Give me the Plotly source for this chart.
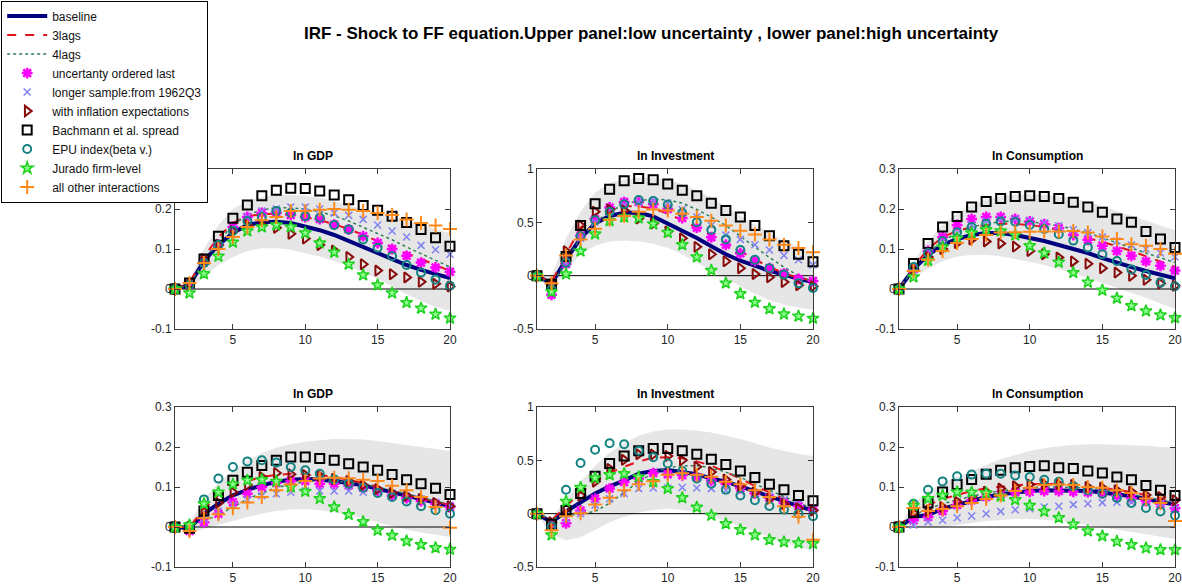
import plotly.graph_objects as go

horizon = list(range(1, 21))

series_names = ["baseline", "3lags", "4lags", "uncertanty ordered last",
                "longer sample:from 1962Q3", "with inflation expectations",
                "Bachmann et al. spread", "EPU index(beta v.)",
                "Jurado firm-level", "all other interactions"]
panel_titles = ["ln GDP", "ln Investment", "ln Consumption"]
main_title = "IRF - Shock to FF equation.Upper panel:low uncertainty , lower panel:high uncertainty"

# ---------------- upper panel: low uncertainty ----------------
gdp_lo_base = [0, 0.01, 0.07, 0.11, 0.14, 0.16, 0.167, 0.168, 0.165, 0.157, 0.147, 0.135, 0.12, 0.105, 0.09, 0.075, 0.06, 0.048, 0.037, 0.027]
gdp_lo_lag3 = [0, 0.015, 0.08, 0.13, 0.165, 0.182, 0.187, 0.188, 0.186, 0.18, 0.172, 0.162, 0.15, 0.135, 0.12, 0.105, 0.09, 0.075, 0.06, 0.045]
gdp_lo_lag4 = [0, 0.01, 0.07, 0.12, 0.16, 0.185, 0.198, 0.203, 0.203, 0.2, 0.193, 0.183, 0.17, 0.155, 0.14, 0.123, 0.105, 0.088, 0.07, 0.055]
gdp_lo_ulast = [0, 0.01, 0.07, 0.11, 0.155, 0.18, 0.19, 0.19, 0.185, 0.18, 0.175, 0.161, 0.149, 0.132, 0.115, 0.1, 0.083, 0.066, 0.054, 0.043]
gdp_lo_long = [0, 0.01, 0.065, 0.11, 0.15, 0.18, 0.195, 0.2, 0.205, 0.205, 0.2, 0.19, 0.184, 0.174, 0.16, 0.145, 0.13, 0.109, 0.098, 0.087]
gdp_lo_infl = [0, 0.01, 0.075, 0.11, 0.145, 0.16, 0.16, 0.153, 0.138, 0.126, 0.11, 0.096, 0.08, 0.062, 0.046, 0.037, 0.029, 0.018, 0.013, 0.006]
gdp_lo_bach = [0, 0.015, 0.075, 0.132, 0.177, 0.21, 0.233, 0.247, 0.252, 0.251, 0.245, 0.235, 0.223, 0.209, 0.197, 0.182, 0.166, 0.149, 0.128, 0.107]
gdp_lo_epu = [0, 0.01, 0.065, 0.11, 0.145, 0.17, 0.18, 0.195, 0.19, 0.182, 0.178, 0.16, 0.149, 0.124, 0.103, 0.082, 0.06, 0.041, 0.024, 0.008]
gdp_lo_jur = [0, -0.01, 0.038, 0.082, 0.117, 0.145, 0.155, 0.16, 0.155, 0.14, 0.115, 0.092, 0.062, 0.035, 0.01, -0.01, -0.034, -0.048, -0.063, -0.073]
gdp_lo_other = [0, 0.015, 0.065, 0.1, 0.13, 0.155, 0.172, 0.18, 0.195, 0.195, 0.198, 0.2, 0.198, 0.195, 0.19, 0.185, 0.174, 0.165, 0.159, 0.15]
gdp_lo_band_low = [0, 0, 0.03, 0.06, 0.08, 0.095, 0.102, 0.102, 0.098, 0.09, 0.081, 0.07, 0.057, 0.042, 0.025, 0.007, -0.013, -0.03, -0.045, -0.055]
gdp_lo_band_high = [0, 0.02, 0.1, 0.16, 0.2, 0.22, 0.23, 0.235, 0.235, 0.233, 0.228, 0.22, 0.21, 0.2, 0.19, 0.18, 0.17, 0.16, 0.15, 0.14]

inv_lo_base = [0, -0.075, 0.15, 0.35, 0.49, 0.56, 0.59, 0.59, 0.556, 0.49, 0.425, 0.353, 0.275, 0.2, 0.14, 0.09, 0.045, 0.01, -0.03, -0.06]
inv_lo_lag3 = [0, -0.06, 0.2, 0.45, 0.57, 0.63, 0.65, 0.65, 0.63, 0.58, 0.52, 0.45, 0.38, 0.3, 0.23, 0.15, 0.085, 0.02, -0.02, -0.05]
inv_lo_lag4 = [0, -0.1, 0.15, 0.35, 0.5, 0.6, 0.67, 0.7, 0.72, 0.71, 0.68, 0.62, 0.55, 0.47, 0.37, 0.27, 0.17, 0.08, 0.0, -0.06]
inv_lo_ulast = [0, -0.18, 0.11, 0.375, 0.53, 0.64, 0.69, 0.69, 0.67, 0.625, 0.54, 0.45, 0.36, 0.29, 0.21, 0.14, 0.07, 0.02, -0.03, -0.05]
inv_lo_long = [0, -0.12, 0.12, 0.35, 0.5, 0.6, 0.66, 0.69, 0.7, 0.68, 0.62, 0.55, 0.47, 0.38, 0.34, 0.29, 0.24, 0.19, 0.15, 0.1]
inv_lo_infl = [0, -0.08, 0.23, 0.47, 0.6, 0.62, 0.61, 0.535, 0.49, 0.415, 0.35, 0.27, 0.2, 0.135, 0.07, 0.015, -0.015, -0.06, -0.09, -0.1]
inv_lo_bach = [0, -0.08, 0.18, 0.47, 0.675, 0.81, 0.89, 0.91, 0.9, 0.86, 0.8, 0.75, 0.68, 0.61, 0.55, 0.47, 0.375, 0.28, 0.2, 0.13]
inv_lo_epu = [0, -0.13, 0.12, 0.37, 0.52, 0.6, 0.67, 0.71, 0.7, 0.665, 0.59, 0.5, 0.43, 0.34, 0.24, 0.15, 0.07, 0.01, -0.07, -0.115]
inv_lo_jur = [0, -0.15, 0.015, 0.23, 0.39, 0.515, 0.55, 0.54, 0.485, 0.405, 0.29, 0.175, 0.05, -0.07, -0.17, -0.25, -0.31, -0.36, -0.38, -0.4]
inv_lo_other = [0, -0.07, 0.19, 0.34, 0.44, 0.525, 0.56, 0.6, 0.62, 0.61, 0.58, 0.55, 0.515, 0.47, 0.42, 0.385, 0.34, 0.29, 0.26, 0.22]
inv_lo_band_low = [0, -0.15, 0.05, 0.2, 0.28, 0.32, 0.33, 0.32, 0.3, 0.26, 0.2, 0.12, 0.05, -0.03, -0.1, -0.17, -0.23, -0.27, -0.3, -0.32]
inv_lo_band_high = [0, 0.0, 0.35, 0.6, 0.78, 0.87, 0.9, 0.92, 0.92, 0.9, 0.86, 0.8, 0.73, 0.65, 0.56, 0.48, 0.4, 0.33, 0.27, 0.22]

con_lo_base = [0, 0.05, 0.085, 0.11, 0.125, 0.135, 0.14, 0.14, 0.135, 0.128, 0.12, 0.11, 0.1, 0.09, 0.077, 0.065, 0.055, 0.045, 0.036, 0.027]
con_lo_lag3 = [0, 0.055, 0.1, 0.13, 0.145, 0.155, 0.16, 0.163, 0.163, 0.16, 0.155, 0.148, 0.138, 0.128, 0.118, 0.107, 0.095, 0.082, 0.068, 0.055]
con_lo_lag4 = [0, 0.05, 0.09, 0.12, 0.14, 0.155, 0.163, 0.168, 0.17, 0.168, 0.164, 0.158, 0.15, 0.14, 0.128, 0.115, 0.102, 0.09, 0.078, 0.066]
con_lo_ulast = [0, 0.05, 0.095, 0.13, 0.16, 0.175, 0.18, 0.18, 0.175, 0.169, 0.162, 0.152, 0.135, 0.123, 0.108, 0.095, 0.083, 0.069, 0.058, 0.046]
con_lo_long = [0, 0.05, 0.09, 0.12, 0.14, 0.16, 0.17, 0.175, 0.175, 0.172, 0.165, 0.158, 0.148, 0.141, 0.13, 0.12, 0.11, 0.1, 0.09, 0.08]
con_lo_infl = [0, 0.05, 0.08, 0.1, 0.115, 0.124, 0.119, 0.114, 0.106, 0.095, 0.087, 0.079, 0.069, 0.063, 0.052, 0.041, 0.033, 0.023, 0.014, 0.008]
con_lo_bach = [0, 0.064, 0.114, 0.155, 0.181, 0.205, 0.219, 0.226, 0.231, 0.233, 0.231, 0.226, 0.217, 0.205, 0.192, 0.175, 0.167, 0.144, 0.125, 0.104]
con_lo_epu = [0, 0.055, 0.09, 0.12, 0.142, 0.155, 0.163, 0.169, 0.168, 0.16, 0.15, 0.137, 0.121, 0.104, 0.087, 0.07, 0.049, 0.035, 0.016, 0.007]
con_lo_jur = [0, 0.03, 0.071, 0.105, 0.127, 0.14, 0.148, 0.145, 0.135, 0.108, 0.09, 0.067, 0.041, 0.017, -0.003, -0.023, -0.042, -0.055, -0.065, -0.072]
con_lo_other = [0, 0.045, 0.073, 0.095, 0.115, 0.125, 0.135, 0.141, 0.142, 0.143, 0.144, 0.144, 0.145, 0.141, 0.131, 0.125, 0.112, 0.108, 0.1, 0.088]
con_lo_band_low = [0, 0.03, 0.05, 0.07, 0.081, 0.085, 0.085, 0.082, 0.075, 0.068, 0.06, 0.05, 0.04, 0.028, 0.016, 0.003, -0.01, -0.022, -0.035, -0.05]
con_lo_band_high = [0, 0.07, 0.12, 0.16, 0.19, 0.21, 0.225, 0.232, 0.236, 0.237, 0.235, 0.232, 0.226, 0.218, 0.207, 0.195, 0.183, 0.17, 0.158, 0.147]

# ---------------- lower panel: high uncertainty ----------------
gdp_hi_base = [0, -0.003, 0.033, 0.058, 0.079, 0.093, 0.104, 0.113, 0.118, 0.12, 0.119, 0.115, 0.11, 0.104, 0.096, 0.088, 0.078, 0.07, 0.061, 0.052]
gdp_hi_lag3 = [0, 0.0, 0.045, 0.08, 0.1, 0.115, 0.125, 0.13, 0.133, 0.133, 0.13, 0.125, 0.118, 0.11, 0.1, 0.09, 0.08, 0.072, 0.063, 0.055]
gdp_hi_lag4 = [0, 0.005, 0.015, 0.03, 0.05, 0.07, 0.085, 0.098, 0.107, 0.113, 0.115, 0.115, 0.112, 0.107, 0.1, 0.092, 0.083, 0.074, 0.065, 0.056]
gdp_hi_ulast = [0, -0.01, 0.012, 0.033, 0.062, 0.083, 0.1, 0.11, 0.115, 0.115, 0.108, 0.108, 0.104, 0.098, 0.09, 0.079, 0.072, 0.065, 0.058, 0.05]
gdp_hi_long = [0, 0.0, 0.02, 0.04, 0.055, 0.068, 0.078, 0.083, 0.087, 0.09, 0.09, 0.09, 0.09, 0.087, 0.088, 0.085, 0.078, 0.07, 0.062, 0.055]
gdp_hi_infl = [0, 0.0, 0.04, 0.06, 0.087, 0.105, 0.125, 0.135, 0.132, 0.13, 0.128, 0.12, 0.115, 0.105, 0.095, 0.085, 0.078, 0.07, 0.06, 0.052]
gdp_hi_bach = [0, -0.003, 0.04, 0.079, 0.117, 0.137, 0.154, 0.167, 0.175, 0.175, 0.171, 0.167, 0.158, 0.15, 0.142, 0.131, 0.118, 0.108, 0.097, 0.081]
gdp_hi_epu = [0, 0.0, 0.069, 0.121, 0.15, 0.164, 0.167, 0.161, 0.15, 0.142, 0.133, 0.119, 0.108, 0.098, 0.085, 0.075, 0.064, 0.052, 0.042, 0.033]
gdp_hi_jur = [0, 0.005, 0.058, 0.087, 0.107, 0.117, 0.118, 0.114, 0.1, 0.089, 0.071, 0.05, 0.031, 0.013, -0.008, -0.021, -0.035, -0.044, -0.052, -0.056]
gdp_hi_other = [0, -0.01, 0.022, 0.032, 0.047, 0.061, 0.075, 0.092, 0.106, 0.115, 0.121, 0.123, 0.122, 0.118, 0.115, 0.103, 0.092, 0.075, 0.05, -0.002]
gdp_hi_band_low = [0, -0.015, -0.005, 0.005, 0.015, 0.025, 0.033, 0.04, 0.044, 0.045, 0.042, 0.037, 0.03, 0.022, 0.012, 0.002, -0.007, -0.014, -0.02, -0.025]
gdp_hi_band_high = [0, 0.01, 0.07, 0.11, 0.14, 0.165, 0.185, 0.198, 0.207, 0.213, 0.217, 0.22, 0.22, 0.219, 0.215, 0.21, 0.205, 0.2, 0.195, 0.19]

inv_hi_base = [0, -0.08, 0.02, 0.11, 0.19, 0.256, 0.31, 0.375, 0.4, 0.41, 0.39, 0.37, 0.33, 0.3, 0.256, 0.21, 0.156, 0.11, 0.07, 0.03]
inv_hi_lag3 = [0, -0.06, 0.07, 0.2, 0.3, 0.38, 0.44, 0.49, 0.525, 0.53, 0.52, 0.49, 0.45, 0.39, 0.33, 0.26, 0.2, 0.14, 0.08, 0.03]
inv_hi_lag4 = [0, -0.05, -0.02, 0.0, 0.02, 0.1, 0.2, 0.3, 0.38, 0.43, 0.45, 0.45, 0.43, 0.39, 0.34, 0.28, 0.22, 0.16, 0.1, 0.05]
inv_hi_ulast = [0, -0.1, -0.09, 0.03, 0.14, 0.235, 0.297, 0.33, 0.38, 0.37, 0.36, 0.34, 0.31, 0.28, 0.24, 0.19, 0.15, 0.1, 0.07, 0.04]
inv_hi_long = [0, -0.1, -0.05, 0.0, 0.08, 0.14, 0.19, 0.235, 0.24, 0.24, 0.245, 0.24, 0.235, 0.22, 0.21, 0.19, 0.16, 0.13, 0.09, 0.05]
inv_hi_infl = [0, -0.08, 0.05, 0.17, 0.3, 0.42, 0.505, 0.556, 0.555, 0.54, 0.5, 0.44, 0.39, 0.32, 0.26, 0.2, 0.14, 0.09, 0.05, 0.03]
inv_hi_bach = [0, -0.1, 0.03, 0.19, 0.35, 0.47, 0.54, 0.59, 0.61, 0.61, 0.59, 0.556, 0.51, 0.46, 0.4, 0.34, 0.275, 0.225, 0.17, 0.12]
inv_hi_epu = [0, -0.12, 0.225, 0.475, 0.6, 0.66, 0.65, 0.59, 0.53, 0.47, 0.4, 0.33, 0.28, 0.225, 0.17, 0.125, 0.072, 0.038, 0.0, -0.025]
inv_hi_jur = [0, -0.2, 0.115, 0.245, 0.335, 0.365, 0.375, 0.345, 0.3, 0.235, 0.15, 0.06, -0.015, -0.095, -0.15, -0.2, -0.245, -0.265, -0.275, -0.28]
inv_hi_other = [0, -0.155, -0.025, 0.005, 0.087, 0.15, 0.22, 0.275, 0.305, 0.365, 0.38, 0.365, 0.345, 0.3, 0.275, 0.22, 0.156, 0.07, -0.03, -0.245]
inv_hi_band_low = [0, -0.2, -0.25, -0.22, -0.15, -0.08, -0.03, 0.01, 0.035, 0.045, 0.035, 0.015, -0.02, -0.065, -0.12, -0.17, -0.22, -0.27, -0.31, -0.35]
inv_hi_band_high = [0, -0.05, 0.15, 0.3, 0.45, 0.57, 0.66, 0.73, 0.77, 0.79, 0.79, 0.78, 0.76, 0.73, 0.7, 0.66, 0.62, 0.59, 0.56, 0.54]

con_hi_base = [0, 0.025, 0.03, 0.046, 0.055, 0.065, 0.075, 0.082, 0.087, 0.09, 0.092, 0.092, 0.091, 0.09, 0.086, 0.082, 0.077, 0.07, 0.063, 0.056]
con_hi_lag3 = [0, 0.04, 0.055, 0.07, 0.08, 0.09, 0.097, 0.101, 0.104, 0.107, 0.108, 0.108, 0.106, 0.102, 0.098, 0.093, 0.087, 0.08, 0.072, 0.063]
con_hi_lag4 = [0, 0.03, 0.045, 0.058, 0.068, 0.077, 0.085, 0.09, 0.095, 0.098, 0.1, 0.1, 0.099, 0.097, 0.093, 0.088, 0.082, 0.075, 0.068, 0.06]
con_hi_ulast = [0, 0.017, 0.025, 0.04, 0.055, 0.067, 0.075, 0.082, 0.087, 0.088, 0.09, 0.09, 0.088, 0.087, 0.085, 0.078, 0.072, 0.065, 0.058, 0.047]
con_hi_long = [0, 0.005, 0.0125, 0.017, 0.023, 0.0275, 0.033, 0.039, 0.043, 0.046, 0.05, 0.052, 0.056, 0.058, 0.061, 0.062, 0.062, 0.062, 0.06, 0.055]
con_hi_infl = [0, 0.035, 0.04, 0.05, 0.063, 0.075, 0.088, 0.096, 0.102, 0.106, 0.107, 0.107, 0.105, 0.1, 0.098, 0.092, 0.088, 0.08, 0.075, 0.067]
con_hi_bach = [0, 0.036, 0.06, 0.0875, 0.106, 0.119, 0.132, 0.142, 0.148, 0.151, 0.153, 0.148, 0.146, 0.14, 0.135, 0.125, 0.118, 0.104, 0.092, 0.079]
con_hi_epu = [0, 0.058, 0.093, 0.114, 0.127, 0.131, 0.133, 0.133, 0.129, 0.125, 0.118, 0.113, 0.102, 0.092, 0.083, 0.0725, 0.06, 0.0475, 0.039, 0.029]
con_hi_jur = [0, 0.054, 0.071, 0.079, 0.0875, 0.087, 0.085, 0.077, 0.068, 0.054, 0.039, 0.023, 0.007, -0.01, -0.0225, -0.036, -0.044, -0.0525, -0.057, -0.057]
con_hi_other = [0, 0.0475, 0.04, 0.045, 0.052, 0.06, 0.07, 0.079, 0.09, 0.098, 0.105, 0.106, 0.105, 0.1, 0.098, 0.092, 0.085, 0.071, 0.06, 0.015]
con_hi_band_low = [0, 0.0, 0.0, 0.0, 0.005, 0.01, 0.015, 0.018, 0.02, 0.02, 0.018, 0.015, 0.01, 0.005, 0.0, -0.006, -0.012, -0.018, -0.024, -0.03]
con_hi_band_high = [0, 0.06, 0.09, 0.11, 0.125, 0.14, 0.155, 0.17, 0.18, 0.19, 0.197, 0.202, 0.205, 0.207, 0.207, 0.206, 0.205, 0.203, 0.2, 0.198]

gdp_ticks = [-0.1, 0, 0.1, 0.2, 0.3]
inv_ticks = [-0.5, 0, 0.5, 1]
con_ticks = [-0.1, 0, 0.1, 0.2, 0.3]
x_ticks = [5, 10, 15, 20]

panels = [
    (panel_titles[0], gdp_ticks, [gdp_lo_base, gdp_lo_lag3, gdp_lo_lag4, gdp_lo_ulast, gdp_lo_long, gdp_lo_infl, gdp_lo_bach, gdp_lo_epu, gdp_lo_jur, gdp_lo_other], gdp_lo_band_low, gdp_lo_band_high),
    (panel_titles[1], inv_ticks, [inv_lo_base, inv_lo_lag3, inv_lo_lag4, inv_lo_ulast, inv_lo_long, inv_lo_infl, inv_lo_bach, inv_lo_epu, inv_lo_jur, inv_lo_other], inv_lo_band_low, inv_lo_band_high),
    (panel_titles[2], con_ticks, [con_lo_base, con_lo_lag3, con_lo_lag4, con_lo_ulast, con_lo_long, con_lo_infl, con_lo_bach, con_lo_epu, con_lo_jur, con_lo_other], con_lo_band_low, con_lo_band_high),
    (panel_titles[0], gdp_ticks, [gdp_hi_base, gdp_hi_lag3, gdp_hi_lag4, gdp_hi_ulast, gdp_hi_long, gdp_hi_infl, gdp_hi_bach, gdp_hi_epu, gdp_hi_jur, gdp_hi_other], gdp_hi_band_low, gdp_hi_band_high),
    (panel_titles[1], inv_ticks, [inv_hi_base, inv_hi_lag3, inv_hi_lag4, inv_hi_ulast, inv_hi_long, inv_hi_infl, inv_hi_bach, inv_hi_epu, inv_hi_jur, inv_hi_other], inv_hi_band_low, inv_hi_band_high),
    (panel_titles[2], con_ticks, [con_hi_base, con_hi_lag3, con_hi_lag4, con_hi_ulast, con_hi_long, con_hi_infl, con_hi_bach, con_hi_epu, con_hi_jur, con_hi_other], con_hi_band_low, con_hi_band_high),
]

def mk(symbol, color, size, width, fill=None):
    return dict(mode="markers",
                marker=dict(symbol=symbol, size=size, color=fill or color,
                            line=dict(color=color, width=width)))

styles = [
    dict(mode="lines", line=dict(color="#00007f", width=4)),
    dict(mode="lines", line=dict(color="#e3131b", width=2, dash="dash")),
    dict(mode="lines", line=dict(color="#2d7f5a", width=1.5, dash="dot")),
    mk("asterisk-open", "#ff00ff", 9, 2.5),
    mk("x-thin-open", "#8282f2", 7, 1.5),
    mk("triangle-right-open", "#870a0a", 9, 2),
    mk("square-open", "#000000", 9, 2),
    mk("circle-open", "#148282", 8, 2),
    mk("star", "#1fd21f", 9, 1.5, fill="#8cff8c"),
    mk("cross-thin-open", "#ff8a1a", 10, 2),
]

W, H = 1182, 585
col_px = [(175, 450), (537, 813), (899, 1175)]
row_px = [(169, 329), (407, 567)]

FONT = "Liberation Sans, Arial, sans-serif"
fig = go.Figure()
layout = dict(
    width=W, height=H, margin=dict(l=0, r=0, t=0, b=0, pad=0, autoexpand=False),
    paper_bgcolor="white", plot_bgcolor="white",
    font=dict(family=FONT, size=12, color="#262626"),
    showlegend=True,
    legend=dict(x=0.001, y=0.999, xanchor="left", yanchor="top",
                bgcolor="white", bordercolor="#000000", borderwidth=1,
                font=dict(family=FONT, size=12, color="#111111"),
                tracegroupgap=0, itemwidth=40),
)
annotations = [dict(text="<b>" + main_title + "</b>", x=651 / W, y=1 - 33 / H,
                    xref="paper", yref="paper", xanchor="center", yanchor="middle",
                    showarrow=False, font=dict(family=FONT, size=17, color="#000000"))]

for i, (ttl, yt, series, band_low, band_high) in enumerate(panels):
    r, c = divmod(i, 3)
    xa = "x" if i == 0 else f"x{i+1}"
    ya = "y" if i == 0 else f"y{i+1}"
    x0, x1 = col_px[c]
    y0, y1 = row_px[r]
    dx = [x0 / W, x1 / W]
    dy = [1 - y1 / H, 1 - y0 / H]
    common = dict(showgrid=False, zeroline=False, showline=True, mirror="ticks",
                  linecolor="#3a3a3a", linewidth=1, ticks="inside", ticklen=5,
                  tickcolor="#3a3a3a", automargin=False,
                  tickfont=dict(family=FONT, size=12, color="#262626"))
    layout["xaxis" if i == 0 else f"xaxis{i+1}"] = dict(
        domain=dx, anchor=ya, range=[horizon[0], horizon[-1]], tickvals=x_ticks, **common)
    layout["yaxis" if i == 0 else f"yaxis{i+1}"] = dict(
        domain=dy, anchor=xa, range=[yt[0], yt[-1]], tickvals=yt,
        ticktext=[("%g" % v) for v in yt], **common)
    fig.add_trace(go.Scatter(x=horizon + horizon[::-1], y=band_high + band_low[::-1],
                             fill="toself", fillcolor="#e6e6e6", mode="lines",
                             line=dict(width=0, color="#e6e6e6"), hoverinfo="skip",
                             showlegend=False, xaxis=xa, yaxis=ya))
    fig.add_trace(go.Scatter(x=[horizon[0], horizon[-1]], y=[0, 0], mode="lines",
                             line=dict(color="#000000", width=1), hoverinfo="skip",
                             showlegend=False, xaxis=xa, yaxis=ya))
    for k, (name, vals) in enumerate(zip(series_names, series)):
        fig.add_trace(go.Scatter(x=horizon, y=vals, name=name, legendgroup=name,
                                 showlegend=(i == 0), cliponaxis=False,
                                 xaxis=xa, yaxis=ya, **styles[k]))
    annotations.append(dict(text="<b>" + ttl + "</b>", x=(dx[0] + dx[1]) / 2, y=dy[1],
                            xref="paper", yref="paper", xanchor="center", yanchor="bottom",
                            yshift=4, showarrow=False,
                            font=dict(family=FONT, size=12, color="#000000")))

layout["annotations"] = annotations
fig.update_layout(**layout)

post = (
    "var gd = document.getElementById('{plot_id}');"
    "document.documentElement.style.margin='0';"
    "document.body.style.margin='0';"
    "document.documentElement.style.overflow='hidden';"
    "document.body.style.overflow='hidden';"
    "gd.style.position='fixed'; gd.style.left='0px'; gd.style.top='0px';"
    "Plotly.relayout(gd, {width: window.innerWidth, height: window.innerHeight});"
)
fig.write_html("out.html", config={"displayModeBar": False}, post_script=post)
